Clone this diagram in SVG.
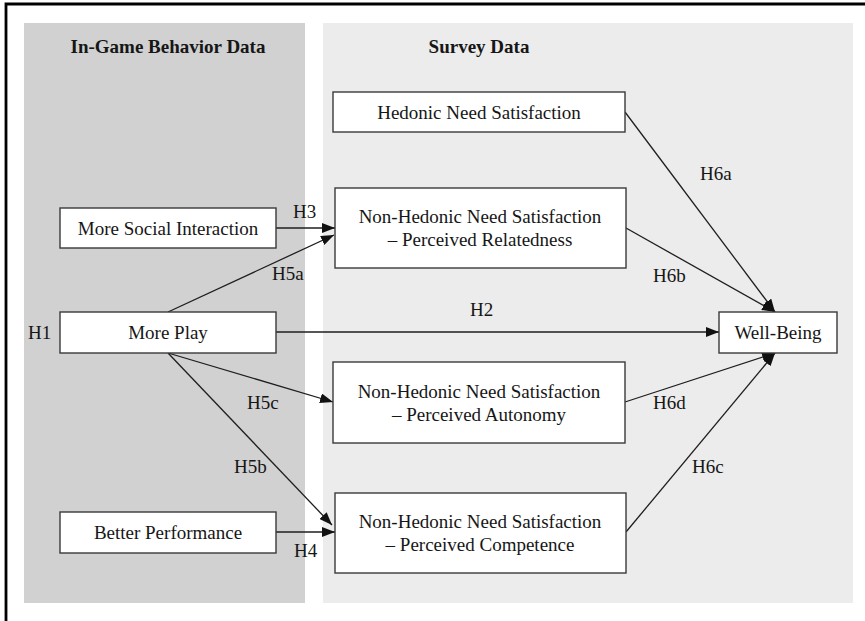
<svg xmlns="http://www.w3.org/2000/svg" width="865" height="621" viewBox="0 0 865 621">
<style>
.t{font-family:"Liberation Serif","Times New Roman",serif;font-size:19px;fill:#161616;text-anchor:middle}
.b{font-weight:bold}
.box{fill:#fff;stroke:#3a3a3a;stroke-width:1.4}
.ln{stroke:#1e1e1e;stroke-width:1.3;fill:none;marker-end:url(#ah)}
.lb{font-family:"Liberation Serif","Times New Roman",serif;font-size:19px;fill:#161616}
</style>
<defs>
<marker id="ah" markerUnits="userSpaceOnUse" markerWidth="14" markerHeight="10" refX="13" refY="5" orient="auto">
<path d="M0,0 L13,5 L0,10 z" fill="#111"/>
</marker>
</defs>
<rect x="0" y="0" width="865" height="621" fill="#fff"/>
<path d="M6,621 V4 H865" fill="none" stroke="#000" stroke-width="2.8"/>
<g id="panel-left">
<rect x="24" y="23" width="281" height="580" fill="#d1d1d1"/>
<text class="t b" x="168" y="53">In-Game Behavior Data</text>
</g>
<g id="panel-right">
<rect x="323" y="23" width="530" height="580" fill="#ececec"/>
<text class="t b" x="479" y="53">Survey Data</text>
</g>
<g id="connectors">
<line class="ln" x1="276" y1="228" x2="335" y2="228"/>
<line class="ln" x1="168" y1="312" x2="334" y2="235"/>
<line class="ln" x1="276" y1="332" x2="719" y2="332"/>
<line class="ln" x1="168" y1="353" x2="333" y2="402"/>
<line class="ln" x1="168" y1="353" x2="332" y2="525"/>
<line class="ln" x1="276" y1="532" x2="335" y2="532"/>
<line class="ln" x1="625" y1="112" x2="775" y2="312"/>
<line class="ln" x1="626" y1="228" x2="775" y2="312"/>
<line class="ln" x1="625" y1="402" x2="775" y2="353"/>
<line class="ln" x1="626" y1="532" x2="775" y2="353"/>
<text class="lb" x="293" y="218">H3</text>
<text class="lb" x="272" y="280">H5a</text>
<text class="lb" x="28" y="339">H1</text>
<text class="lb" x="470" y="316">H2</text>
<text class="lb" x="247" y="409">H5c</text>
<text class="lb" x="234" y="473">H5b</text>
<text class="lb" x="294" y="557">H4</text>
<text class="lb" x="700" y="180">H6a</text>
<text class="lb" x="653" y="282">H6b</text>
<text class="lb" x="653" y="409">H6d</text>
<text class="lb" x="692" y="473">H6c</text>
</g>
<g id="social">
<rect class="box" x="60" y="208" width="216" height="40"/>
<text class="t" x="168" y="235">More Social Interaction</text>
</g>
<g id="play">
<rect class="box" x="60" y="312" width="216" height="41"/>
<text class="t" x="168" y="339">More Play</text>
</g>
<g id="performance">
<rect class="box" x="60" y="512" width="216" height="41"/>
<text class="t" x="168" y="539">Better Performance</text>
</g>
<g id="hedonic">
<rect class="box" x="333" y="92" width="292" height="40"/>
<text class="t" x="479" y="119">Hedonic Need Satisfaction</text>
</g>
<g id="relatedness">
<rect class="box" x="335" y="188" width="291" height="80"/>
<text class="t" x="480" y="223">Non-Hedonic Need Satisfaction</text>
<text class="t" x="480" y="246">– Perceived Relatedness</text>
</g>
<g id="autonomy">
<rect class="box" x="333" y="362" width="292" height="81"/>
<text class="t" x="479" y="398">Non-Hedonic Need Satisfaction</text>
<text class="t" x="479" y="421">– Perceived Autonomy</text>
</g>
<g id="competence">
<rect class="box" x="335" y="493" width="291" height="80"/>
<text class="t" x="480" y="528">Non-Hedonic Need Satisfaction</text>
<text class="t" x="480" y="551">– Perceived Competence</text>
</g>
<g id="wellbeing">
<rect class="box" x="719" y="312" width="118" height="41"/>
<text class="t" x="778" y="339">Well-Being</text>
</g>
</svg>
